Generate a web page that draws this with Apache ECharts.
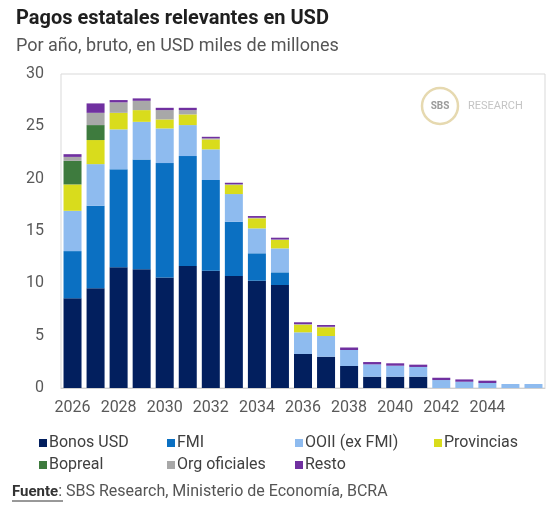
<!DOCTYPE html>
<html>
<head>
<meta charset="utf-8">
<script src="https://cdn.jsdelivr.net/npm/echarts@6/dist/echarts.min.js"></script>
<style>
html,body{margin:0;padding:0;background:#fff;}
#chart{width:549px;height:506px;}
</style>
</head>
<body>
<div id="chart"></div>
<script>
const years = ['2026','2027','2028','2029','2030','2031','2032','2033','2034','2035','2036','2037','2038','2039','2040','2041','2042','2043','2044','2045','2046'];
const bonosUSD   = [8.57, 9.52, 11.53, 11.34, 10.55, 11.65, 11.2, 10.7, 10.25, 9.84, 3.25, 2.99, 2.1, 1.08, 1.08, 1.08, 0, 0, 0, 0, 0];
const fmi        = [4.51, 7.89, 9.36, 10.5, 10.94, 10.51, 8.67, 5.18, 2.62, 1.21, 0, 0, 0, 0, 0, 0, 0, 0, 0, 0, 0];
const ooii       = [3.85, 3.98, 3.82, 3.59, 3.31, 2.96, 2.93, 2.65, 2.38, 2.29, 2.07, 1.98, 1.53, 1.18, 1.05, 0.93, 0.76, 0.6, 0.48, 0.38, 0.38];
const provincias = [2.52, 2.30, 1.58, 1.12, 0.86, 1.02, 0.95, 0.86, 0.96, 0.8, 0.73, 0.83, 0, 0, 0, 0, 0, 0, 0, 0, 0];
const bopreal    = [2.25, 1.43, 0, 0, 0, 0, 0, 0, 0, 0, 0, 0, 0, 0, 0, 0, 0, 0, 0, 0, 0];
const orgOficiales = [0.38, 1.17, 1.0, 0.89, 0.89, 0.41, 0.1, 0.08, 0.05, 0.05, 0.05, 0.05, 0, 0, 0, 0, 0, 0, 0, 0, 0];
const resto      = [0.26, 0.9, 0.22, 0.23, 0.22, 0.22, 0.15, 0.14, 0.17, 0.17, 0.18, 0.17, 0.24, 0.22, 0.23, 0.22, 0.22, 0.22, 0.22, 0, 0];
const yTicks = [0, 5, 10, 15, 20, 25, 30];

const seriesDefs = [
  ['Bonos USD', bonosUSD, '#021f5e'],
  ['FMI', fmi, '#0b70c2'],
  ['OOII (ex FMI)', ooii, '#8ebbef'],
  ['Provincias', provincias, '#d9dc1c'],
  ['Bopreal', bopreal, '#3e7b3e'],
  ['Org oficiales', orgOficiales, '#a8a8a8'],
  ['Resto', resto, '#7030a0']
];

const chart = echarts.init(document.getElementById('chart'), null, {renderer:'canvas'});
const font = 'Roboto, "Liberation Sans", Arial, sans-serif';
const legendBase = {
  orient: 'vertical', itemWidth: 8, itemHeight: 8, itemGap: 6, icon: 'rect',
  textStyle: {fontFamily: font, fontSize: 16, color: '#404040', padding: [0,0,0,-3]},
  selectedMode: false
};
chart.setOption({
  animation: false,
  backgroundColor: '#fff',
  textStyle: {fontFamily: font},
  title: [
    {text: 'Pagos estatales relevantes en USD', left: 11, top: 4,
     textStyle: {fontFamily: font, fontSize: 20, fontWeight: 'bold', color: '#1f1f1f'}},
    {text: 'Por año, bruto, en USD miles de millones', left: 11, top: 32,
     textStyle: {fontFamily: font, fontSize: 18, fontWeight: 'normal', color: '#555'}}
  ],
  legend: [
    Object.assign({}, legendBase, {left: 34, top: 430, data: ['Bonos USD', 'Bopreal']}),
    Object.assign({}, legendBase, {left: 162, top: 430, data: ['FMI', 'Org oficiales']}),
    Object.assign({}, legendBase, {left: 290, top: 430, data: ['OOII (ex FMI)', 'Resto']}),
    Object.assign({}, legendBase, {left: 429, top: 430, data: ['Provincias']})
  ],
  grid: {left: 61, right: 4, top: 74, bottom: 118, show: true, borderColor: '#d9d9d9', borderWidth: 1},
  xAxis: {
    type: 'category', data: years,
    axisLine: {lineStyle: {color: '#d0d0d0'}},
    axisTick: {show: false},
    axisLabel: {
      interval: function (i, v) { return i % 2 === 0 && v !== '2046'; },
      fontSize: 16, color: '#595959', margin: 12, fontFamily: font
    }
  },
  yAxis: {
    type: 'value', min: yTicks[0], max: yTicks[yTicks.length - 1], interval: 5,
    splitLine: {show: false},
    axisLine: {show: false}, axisTick: {show: false},
    axisLabel: {fontSize: 16, color: '#595959', margin: 17, fontFamily: font}
  },
  series: seriesDefs.map(function (d) {
    return {
      name: d[0], type: 'bar', stack: 'total', data: d[1], barWidth: 18,
      itemStyle: {color: d[2]}
    };
  }),
  graphic: [
    {type: 'circle', shape: {cx: 440, cy: 106, r: 18}, style: {fill: 'none', stroke: '#e6d9b0', lineWidth: 2.5}},
    {type: 'text', x: 440, y: 106, style: {text: 'SBS', fill: '#9a9a9a', font: 'bold 10px ' + font, align: 'center', verticalAlign: 'middle'}},
    {type: 'text', x: 468, y: 106, style: {text: 'RESEARCH', fill: '#c4c4c4', font: '11px ' + font, align: 'left', verticalAlign: 'middle'}},
    {type: 'text', x: 12, y: 492, style: {
      text: '{b|Fuente}: SBS Research, Ministerio de Economía, BCRA',
      verticalAlign: 'middle',
      rich: {b: {fontWeight: 'bold', fontSize: 15, fontFamily: font, fill: '#333'}},
      font: '16px ' + font, fill: '#555'}},
    {type: 'line', shape: {x1: 12, y1: 501, x2: 63, y2: 501}, style: {stroke: '#333', lineWidth: 1}}
  ]
});
</script>
</body>
</html>
